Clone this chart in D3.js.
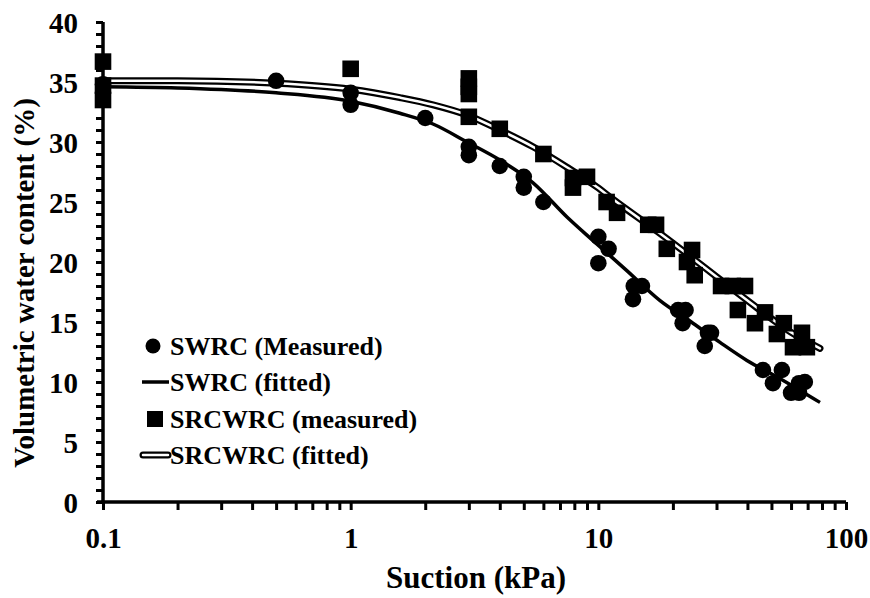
<!DOCTYPE html>
<meta charset="utf-8">
<script src="https://d3js.org/d3.v7.min.js"></script>
<style>
  body { margin: 0; background: #fff; }
</style>
<div id="my_dataviz"></div>
<script>

// measured points, SWRC
var swrcSuction = [0.1, 0.5, 1, 1, 2, 3, 3, 4, 5, 5, 6, 10, 11, 10, 13.9, 15, 13.8, 21, 22.5, 21.9, 27.7, 28.5, 26.9, 46.2, 55.1, 50.7, 60, 64.6, 64.6, 68.2];
var swrcWater   = [34.8, 35.1, 34.1, 33.1, 32.0, 29.6, 28.9, 28.0, 27.1, 26.2, 25.0, 22.1, 21.1, 19.9, 18.0, 18.0, 16.9, 16.0, 16.0, 14.9, 14.1, 14.1, 13.0, 11.0, 11.0, 9.9, 9.1, 9.1, 9.9, 10.0];

// measured points, SRCWRC
var srcSuction = [0.1, 0.1, 0.1, 1, 3, 3, 3, 3, 4, 6, 7.9, 7.9, 9.0, 10.8, 11.9, 15.9, 17.1, 18.9, 22.8, 23.9, 24.5, 31.3, 34.9, 39.1, 36.6, 47.1, 42.9, 56.1, 52.6, 66.4, 61.1, 69.5];
var srcWater   = [36.7, 34.7, 33.5, 36.1, 35.3, 34.6, 34.0, 32.1, 31.1, 29.0, 27.0, 26.2, 27.1, 25.0, 24.1, 23.1, 23.1, 21.1, 20.0, 21.0, 18.9, 18.0, 18.0, 18.0, 16.0, 15.8, 14.9, 14.9, 14.0, 14.1, 12.9, 12.9];

// fitted curves
var swrcFitSuction = [0.1, 0.2, 0.5, 1.0, 1.58, 2.15, 2.95, 4.0, 5.45, 7.47, 9.5, 13.0, 17.7, 24.1, 31.0, 39.8, 54, 78.5];
var swrcFitWater   = [34.6, 34.5, 34.1, 33.4, 32.4, 31.5, 30.0, 28.5, 26.6, 23.75, 21.8, 19.3, 16.8, 14.9, 13.3, 11.8, 10.3, 8.3];
var srcFitSuction  = [0.1, 0.2, 0.5, 1.0, 1.58, 2.15, 2.95, 4.0, 5.45, 7.47, 9.87, 11.5, 17.7, 24.1, 30.1, 43.6, 59.4, 78.5];
var srcFitWater    = [35.1, 35.1, 34.9, 34.4, 33.7, 33.1, 32.25, 31.0, 29.6, 27.9, 26.25, 25.2, 22.4, 20.3, 18.75, 16.2, 14.2, 12.8];

var xMajor = [0.1, 1, 10, 100];
var yMajor = [0, 5, 10, 15, 20, 25, 30, 35, 40];
var legendLabels = ["SWRC (Measured)", "SWRC (fitted)", "SRCWRC (measured)", "SRCWRC (fitted)"];

var W = 870, H = 598;
var serif = "'Liberation Serif', 'Times New Roman', 'DejaVu Serif', serif";

var svg = d3.select("#my_dataviz")
  .append("svg")
    .attr("width", W)
    .attr("height", H)
    .style("font-family", serif)
    .style("font-weight", "bold");

var x = d3.scaleLog().domain([0.1, 100]).range([103, 846]);
var y = d3.scaleLinear().domain([0, 40]).range([502, 22]);

// minor ticks
var xTicks = [];
[0.1, 1, 10].forEach(function(d) {
  for (var i = 1; i < 10; i++) xTicks.push(+(d * i).toPrecision(3));
});
xTicks.push(100);
var yTicks = d3.range(0, 41, 1);

// axes
var xAxis = svg.append("g")
    .attr("transform", "translate(0," + y(0) + ")")
    .call(d3.axisBottom(x).tickValues(xTicks).tickSize(8).tickPadding(17)
      .tickFormat(function(d) { return xMajor.indexOf(d) >= 0 ? d3.format("~g")(d) : ""; }));
xAxis.attr("font-family", null).attr("font-size", null);
xAxis.select(".domain").attr("stroke-width", 3.5).attr("d", "M" + (x(0.1) - 6) + ",0H" + x(100));
xAxis.selectAll(".tick line").attr("stroke-width", 3);
xAxis.selectAll(".tick text")
    .style("font-family", serif).style("font-weight", "bold")
    .style("font-size", "29px").attr("dy", "0.72em");

var yAxis = svg.append("g")
    .attr("transform", "translate(" + x(0.1) + ",0)")
    .call(d3.axisLeft(y).tickValues(yTicks).tickSize(7).tickPadding(18)
      .tickFormat(function(d) { return yMajor.indexOf(d) >= 0 ? d : ""; }));
yAxis.attr("font-family", null).attr("font-size", null);
yAxis.select(".domain").attr("stroke-width", 3.5).attr("d", "M0," + y(40) + "V" + y(0));
yAxis.selectAll(".tick line").attr("stroke-width", 3);
yAxis.selectAll(".tick text")
    .style("font-family", serif).style("font-weight", "bold")
    .style("font-size", "29px").attr("dy", "0.35em");

// axis titles
svg.append("text")
    .attr("x", 476)
    .attr("y", 588)
    .attr("text-anchor", "middle")
    .style("font-family", serif)
    .style("font-size", "31px")
    .text("Suction (kPa)");

svg.append("text")
    .attr("transform", "translate(34,283) rotate(-90)")
    .attr("text-anchor", "middle")
    .style("font-family", serif)
    .style("font-size", "29px")
    .text("Volumetric water content (%)");

// fitted curves
var line = d3.line()
    .x(function(d) { return x(d[0]); })
    .y(function(d) { return y(d[1]); })
    .curve(d3.curveMonotoneX);

var swrcFit = d3.zip(swrcFitSuction, swrcFitWater);
var srcFit = d3.zip(srcFitSuction, srcFitWater);

svg.append("path")
    .datum(swrcFit)
    .attr("d", line)
    .attr("fill", "none")
    .attr("stroke", "#000")
    .attr("stroke-width", 3.5);

svg.append("path")
    .datum(srcFit)
    .attr("d", line)
    .attr("fill", "none")
    .attr("stroke", "#000")
    .attr("stroke-width", 7)
    .attr("stroke-linecap", "round");
svg.append("path")
    .datum(srcFit)
    .attr("d", line)
    .attr("fill", "none")
    .attr("stroke", "#fff")
    .attr("stroke-width", 2.5)
    .attr("stroke-linecap", "round");

// measured points
svg.append("g").selectAll("circle")
    .data(d3.zip(swrcSuction, swrcWater))
    .enter()
    .append("circle")
      .attr("cx", function(d) { return x(d[0]); })
      .attr("cy", function(d) { return y(d[1]); })
      .attr("r", 8.3)
      .attr("fill", "#000");

var sq = 16.6;
svg.append("g").selectAll("rect")
    .data(d3.zip(srcSuction, srcWater))
    .enter()
    .append("rect")
      .attr("x", function(d) { return x(d[0]) - sq / 2; })
      .attr("y", function(d) { return y(d[1]) - sq / 2; })
      .attr("width", sq)
      .attr("height", sq)
      .attr("fill", "#000");

// legend
var leg = svg.append("g");
var rowY = [346, 382, 419, 455];
leg.selectAll("text")
    .data(legendLabels)
    .enter()
    .append("text")
      .attr("x", 170)
      .attr("y", function(d, i) { return rowY[i]; })
      .attr("dy", "0.33em")
      .style("font-family", serif)
      .style("font-size", "26px")
      .text(function(d) { return d; });

leg.append("circle").attr("cx", 153).attr("cy", rowY[0]).attr("r", 7.5).attr("fill", "#000");
leg.append("line").attr("x1", 142).attr("x2", 169).attr("y1", rowY[1]).attr("y2", rowY[1])
    .attr("stroke", "#000").attr("stroke-width", 3.5);
leg.append("rect").attr("x", 147).attr("y", rowY[2] - 8).attr("width", 16).attr("height", 16).attr("fill", "#000");
leg.append("line").attr("x1", 143).attr("x2", 168).attr("y1", rowY[3]).attr("y2", rowY[3])
    .attr("stroke", "#000").attr("stroke-width", 7).attr("stroke-linecap", "round");
leg.append("line").attr("x1", 143).attr("x2", 168).attr("y1", rowY[3]).attr("y2", rowY[3])
    .attr("stroke", "#fff").attr("stroke-width", 2.5).attr("stroke-linecap", "round");

</script>
